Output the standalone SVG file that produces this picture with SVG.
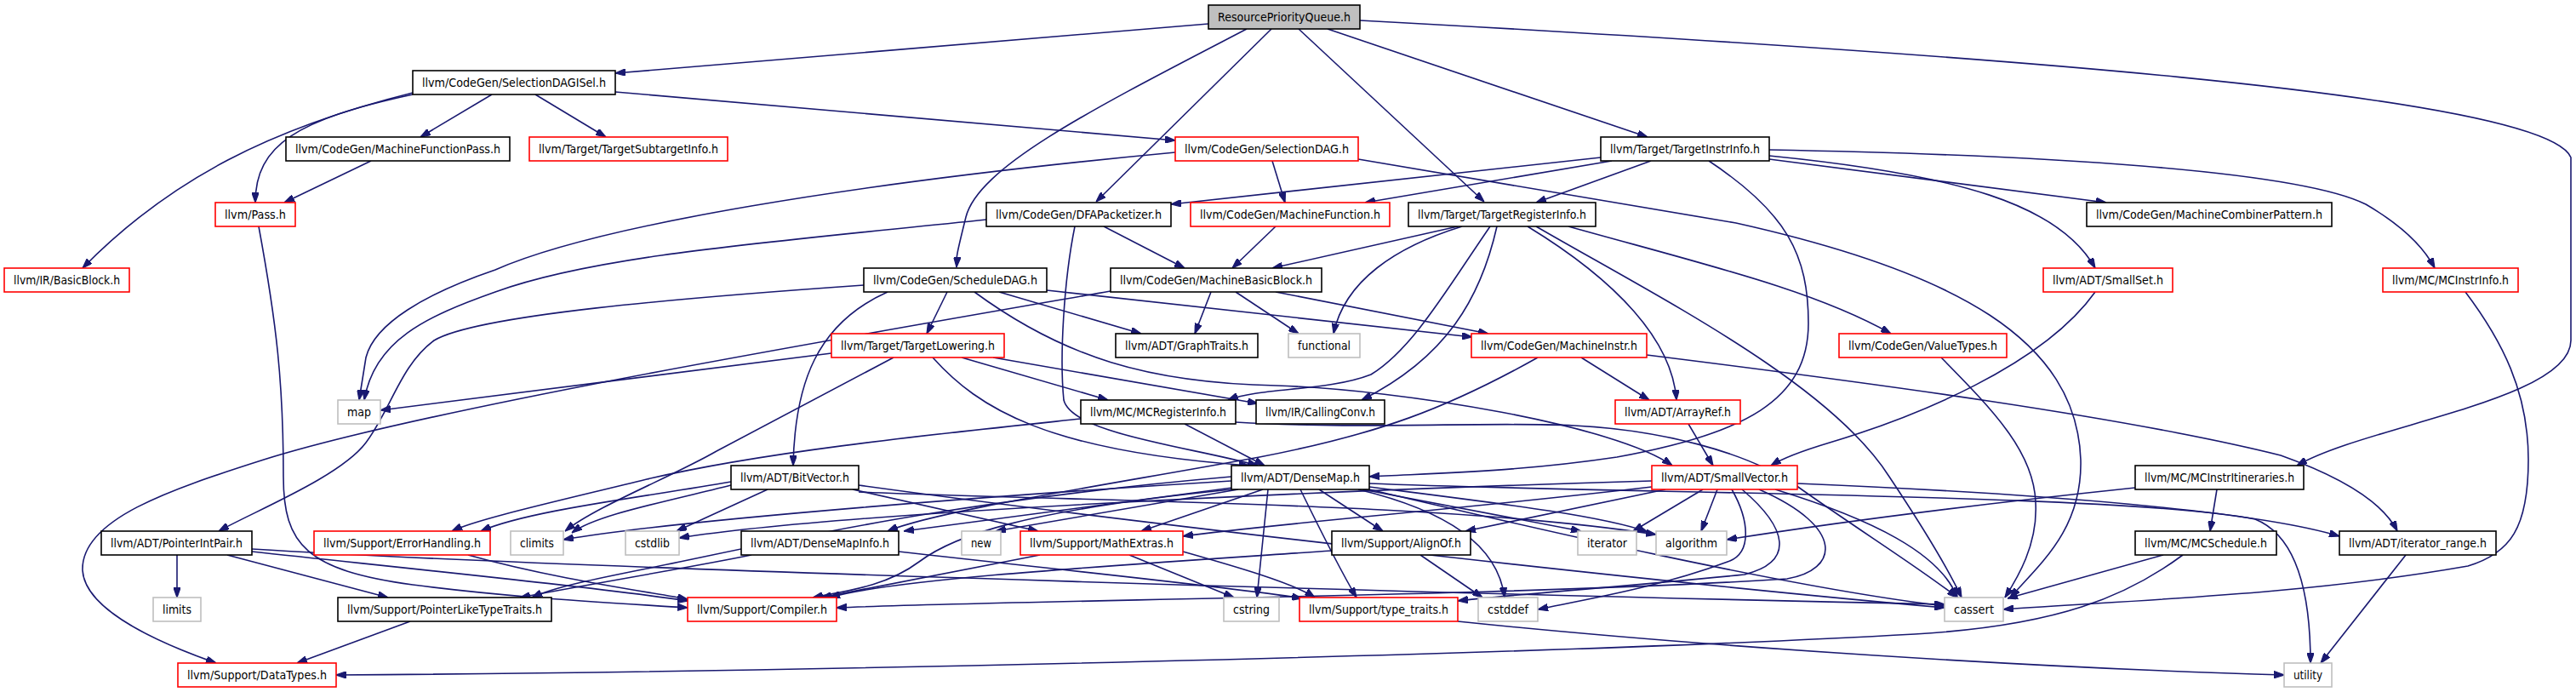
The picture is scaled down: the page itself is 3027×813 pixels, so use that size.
<svg xmlns="http://www.w3.org/2000/svg" width="3027" height="813" viewBox="0 0 3027 813">
<style>
rect{fill:#fff;stroke:#000;stroke-width:1.6}
.r rect{stroke:#ff0000}
.g rect{stroke:#bfbfbf}
.root rect{fill:#bfbfbf}
text{font-family:"DejaVu Sans Condensed","Liberation Sans Narrow","DejaVu Sans",sans-serif;font-size:14px;text-anchor:middle;fill:#000}
#edges path{fill:none;stroke:#191970;stroke-width:1.6;marker-end:url(#a)}
</style>
<defs>
<marker id="a" viewBox="0 0 10 7" refX="10" refY="3.5" markerUnits="userSpaceOnUse" markerWidth="12" markerHeight="8.5" orient="auto">
<path d="M0,0 L10,3.5 L0,7 z" fill="#191970" stroke="#191970"/>
</marker>
</defs>
<rect x="0" y="0" width="3027" height="813" style="fill:#fff;stroke:none"/>
<g id="edges">
<path d="M1420,28 L723,86"/>
<path d="M1465,34 C1290,125 1150,195 1135,255 S1125,300 1124,314"/>
<path d="M1494,34 L1288,237"/>
<path d="M1526,34 L1744,237"/>
<path d="M1560,34 L1936,161"/>
<path d="M1598,24 C2300,62 2990,110 3021,185 L3021,400 C3021,470 2780,500 2699,547"/>
<path d="M578,111 L494,161"/>
<path d="M629,111 L712,161"/>
<path d="M723,108 L1381,165"/>
<path d="M485,111 C350,140 300,170 300,238"/>
<path d="M485,109 C320,150 200,210 97,315"/>
<path d="M436,189 L334,238"/>
<path d="M1381,179 C1000,215 700,265 582,317 C500,345 440,380 430,420 L422,470"/>
<path d="M1495,189 L1510,238"/>
<path d="M1596,187 L2040,262 C2300,320 2440,400 2445,540 C2447,620 2400,660 2362,702"/>
<path d="M1159,258 C900,285 700,300 582,343 C500,372 440,400 428,470"/>
<path d="M1297,266 L1392,315"/>
<path d="M1263,266 C1250,330 1245,420 1250,470 C1260,510 1400,525 1478,547"/>
<path d="M1499,266 L1448,315"/>
<path d="M1881,185 L1376,240"/>
<path d="M1894,189 L1604,238"/>
<path d="M1940,189 L1805,238"/>
<path d="M2008,189 C2100,250 2125,300 2125,380 C2125,470 2050,510 1900,537 C1780,555 1680,556 1609,560"/>
<path d="M2079,187 L2475,238"/>
<path d="M2079,183 C2300,205 2420,240 2462,315"/>
<path d="M2079,176 C2400,182 2700,200 2780,240 Q2840,275 2861,315"/>
<path d="M1713,266 L1495,315"/>
<path d="M1718,266 C1640,290 1580,330 1567,392"/>
<path d="M1751,266 C1700,340 1660,410 1611,440 C1560,460 1480,455 1443,470"/>
<path d="M1759,266 C1740,350 1700,420 1600,470"/>
<path d="M1795,266 C1900,330 1965,400 1970,470"/>
<path d="M1843,266 C2000,310 2130,340 2222,392"/>
<path d="M1805,266 C1950,350 2150,450 2220,560 C2260,620 2290,670 2305,702"/>
<path d="M1423,343 L1404,392"/>
<path d="M1452,343 L1526,392"/>
<path d="M1499,343 L1749,392"/>
<path d="M1305,342 C1000,395 500,480 310,540 C200,575 95,610 97,670 C100,720 200,760 254,779"/>
<path d="M1043,343 C960,380 934,450 932,547"/>
<path d="M1113,343 L1089,392"/>
<path d="M1174,343 L1341,392"/>
<path d="M1230,341 L1730,396"/>
<path d="M1145,343 C1250,420 1350,450 1500,453 C1650,458 1900,500 1965,547"/>
<path d="M1015,335 C800,350 560,370 510,400 C470,430 460,480 430,520 C400,560 300,600 257,624"/>
<path d="M977,415 L447,482"/>
<path d="M1050,420 L842,530 C790,560 700,595 664,624"/>
<path d="M1096,420 C1150,480 1230,530 1468,547"/>
<path d="M1130,420 L1302,470"/>
<path d="M1167,420 L1478,474"/>
<path d="M1392,498 L1486,547"/>
<path d="M1270,492 C1100,510 900,530 760,563 C650,590 560,610 531,624"/>
<path d="M1452,496 C1600,505 1750,495 1850,500 C1950,505 2050,530 2110,570 C2180,620 2260,670 2300,702"/>
<path d="M1858,420 L1938,470"/>
<path d="M1807,420 C1700,480 1620,510 1480,537 C1300,570 1100,600 1043,624"/>
<path d="M1935,417 C2200,450 2500,490 2680,535 C2750,560 2800,590 2817,624"/>
<path d="M1984,498 L2013,547"/>
<path d="M2281,420 C2340,480 2390,530 2392,590 C2395,640 2370,680 2356,702"/>
<path d="M2462,343 C2400,430 2250,490 2150,520 Q2100,535 2081,547"/>
<path d="M2897,343 C2940,400 2971,460 2971,540 C2971,620 2950,650 2900,665 C2700,700 2500,705 2354,716"/>
<path d="M902,575 L795,624"/>
<path d="M859,570 C780,590 700,605 672,626"/>
<path d="M859,566 C750,585 620,600 565,624"/>
<path d="M1002,575 L1220,624"/>
<path d="M1009,578 C1300,590 1700,590 1946,628"/>
<path d="M1009,570 C1300,610 1900,680 2285,714"/>
<path d="M1448,573 L1062,624"/>
<path d="M1550,575 L1625,624"/>
<path d="M1447,575 C1200,600 1120,630 1080,660 C1040,690 990,695 955,702"/>
<path d="M1484,575 L1341,624"/>
<path d="M1447,560 C1100,590 900,640 760,668 C700,680 650,690 625,702"/>
<path d="M1528,575 C1550,620 1575,670 1594,702"/>
<path d="M1609,572 C1750,590 1880,605 1936,625"/>
<path d="M1609,575 C1800,620 2100,690 2285,712"/>
<path d="M1447,565 C1200,580 800,610 662,634"/>
<path d="M1596,575 C1700,600 1760,640 1768,702"/>
<path d="M1490,575 L1477,702"/>
<path d="M1601,575 L1858,624"/>
<path d="M1455,575 L1170,624"/>
<path d="M1609,568 C1900,580 2500,580 2650,610 C2700,630 2715,700 2715,779"/>
<path d="M1957,575 L1722,624"/>
<path d="M2001,575 L1919,624"/>
<path d="M2018,575 L1999,624"/>
<path d="M2035,575 C2055,610 2060,650 2030,660 C1950,690 1860,705 1807,716"/>
<path d="M2047,575 C2100,620 2110,660 2050,675 C1900,690 1760,700 1713,706"/>
<path d="M2067,575 C2170,620 2160,670 2100,680 C1800,700 1200,705 983,714"/>
<path d="M1941,565 C1600,575 1000,600 798,632"/>
<path d="M1941,572 C1700,600 1500,615 1390,630"/>
<path d="M2086,575 C2200,610 2280,650 2300,702"/>
<path d="M2112,568 C2400,580 2650,600 2749,630"/>
<path d="M208,652 L208,702"/>
<path d="M267,652 L456,702"/>
<path d="M296,648 C500,670 700,690 808,706"/>
<path d="M296,645 C700,670 1800,700 2285,710"/>
<path d="M482,730 L349,779"/>
<path d="M304,266 C325,380 333,450 333,560 C333,640 360,670 485,687 C600,702 700,707 808,714"/>
<path d="M550,652 C650,680 760,695 808,704"/>
<path d="M883,652 C820,665 700,685 611,702"/>
<path d="M1056,648 C1250,670 1450,690 1530,703"/>
<path d="M1565,647 C1300,665 1050,680 975,702"/>
<path d="M1669,652 L1742,702"/>
<path d="M1222,652 L965,702"/>
<path d="M1327,652 L1450,702"/>
<path d="M1390,648 C1450,665 1520,685 1545,702"/>
<path d="M1713,730 C2000,760 2400,785 2684,793"/>
<path d="M2605,575 L2597,624"/>
<path d="M2509,573 C2300,595 2150,615 2029,634"/>
<path d="M2542,652 L2359,703"/>
<path d="M2565,652 C2500,700 2420,735 2250,745 C1800,770 900,790 395,793"/>
<path d="M2827,652 L2727,779"/>
</g>
<g id="n_rpq" class="root"><rect x="1420" y="6" width="178" height="28"/><text x="1509" y="25" textLength="156" lengthAdjust="spacingAndGlyphs">ResourcePriorityQueue.h</text></g>
<g id="n_sdisel"><rect x="485" y="83" width="238" height="28"/><text x="604" y="102" textLength="216" lengthAdjust="spacingAndGlyphs">llvm/CodeGen/SelectionDAGISel.h</text></g>
<g id="n_mfpass"><rect x="336" y="161" width="263" height="28"/><text x="467.5" y="180" textLength="241" lengthAdjust="spacingAndGlyphs">llvm/CodeGen/MachineFunctionPass.h</text></g>
<g id="n_tsub" class="r"><rect x="622" y="161" width="233" height="28"/><text x="738.5" y="180" textLength="211" lengthAdjust="spacingAndGlyphs">llvm/Target/TargetSubtargetInfo.h</text></g>
<g id="n_sdag" class="r"><rect x="1381" y="161" width="215" height="28"/><text x="1488.5" y="180" textLength="193" lengthAdjust="spacingAndGlyphs">llvm/CodeGen/SelectionDAG.h</text></g>
<g id="n_tii"><rect x="1881" y="161" width="198" height="28"/><text x="1980" y="180" textLength="176" lengthAdjust="spacingAndGlyphs">llvm/Target/TargetInstrInfo.h</text></g>
<g id="n_pass" class="r"><rect x="253" y="238" width="94" height="28"/><text x="300" y="257" textLength="72" lengthAdjust="spacingAndGlyphs">llvm/Pass.h</text></g>
<g id="n_dfa"><rect x="1159" y="238" width="217" height="28"/><text x="1267.5" y="257" textLength="195" lengthAdjust="spacingAndGlyphs">llvm/CodeGen/DFAPacketizer.h</text></g>
<g id="n_mf" class="r"><rect x="1399" y="238" width="234" height="28"/><text x="1516" y="257" textLength="212" lengthAdjust="spacingAndGlyphs">llvm/CodeGen/MachineFunction.h</text></g>
<g id="n_tri"><rect x="1655" y="238" width="220" height="28"/><text x="1765" y="257" textLength="198" lengthAdjust="spacingAndGlyphs">llvm/Target/TargetRegisterInfo.h</text></g>
<g id="n_mcp"><rect x="2452" y="238" width="288" height="28"/><text x="2596" y="257" textLength="266" lengthAdjust="spacingAndGlyphs">llvm/CodeGen/MachineCombinerPattern.h</text></g>
<g id="n_bb" class="r"><rect x="5" y="315" width="147" height="28"/><text x="78.5" y="334" textLength="125" lengthAdjust="spacingAndGlyphs">llvm/IR/BasicBlock.h</text></g>
<g id="n_sched"><rect x="1015" y="315" width="215" height="28"/><text x="1122.5" y="334" textLength="193" lengthAdjust="spacingAndGlyphs">llvm/CodeGen/ScheduleDAG.h</text></g>
<g id="n_mbb"><rect x="1305" y="315" width="248" height="28"/><text x="1429" y="334" textLength="226" lengthAdjust="spacingAndGlyphs">llvm/CodeGen/MachineBasicBlock.h</text></g>
<g id="n_smallset" class="r"><rect x="2401" y="315" width="152" height="28"/><text x="2477" y="334" textLength="130" lengthAdjust="spacingAndGlyphs">llvm/ADT/SmallSet.h</text></g>
<g id="n_mcii" class="r"><rect x="2800" y="315" width="159" height="28"/><text x="2879.5" y="334" textLength="137" lengthAdjust="spacingAndGlyphs">llvm/MC/MCInstrInfo.h</text></g>
<g id="n_tl" class="r"><rect x="977" y="392" width="203" height="28"/><text x="1078.5" y="411" textLength="181" lengthAdjust="spacingAndGlyphs">llvm/Target/TargetLowering.h</text></g>
<g id="n_gt"><rect x="1311" y="392" width="167" height="28"/><text x="1394.5" y="411" textLength="145" lengthAdjust="spacingAndGlyphs">llvm/ADT/GraphTraits.h</text></g>
<g id="n_functional" class="g"><rect x="1514" y="392" width="84" height="28"/><text x="1556" y="411" textLength="62" lengthAdjust="spacingAndGlyphs">functional</text></g>
<g id="n_mi" class="r"><rect x="1729" y="392" width="206" height="28"/><text x="1832" y="411" textLength="184" lengthAdjust="spacingAndGlyphs">llvm/CodeGen/MachineInstr.h</text></g>
<g id="n_vt" class="r"><rect x="2161" y="392" width="197" height="28"/><text x="2259.5" y="411" textLength="175" lengthAdjust="spacingAndGlyphs">llvm/CodeGen/ValueTypes.h</text></g>
<g id="n_map" class="g"><rect x="397" y="470" width="50" height="28"/><text x="422" y="489" textLength="28" lengthAdjust="spacingAndGlyphs">map</text></g>
<g id="n_mcri"><rect x="1270" y="470" width="182" height="28"/><text x="1361" y="489" textLength="160" lengthAdjust="spacingAndGlyphs">llvm/MC/MCRegisterInfo.h</text></g>
<g id="n_cc"><rect x="1476" y="470" width="151" height="28"/><text x="1551.5" y="489" textLength="129" lengthAdjust="spacingAndGlyphs">llvm/IR/CallingConv.h</text></g>
<g id="n_ar" class="r"><rect x="1898" y="470" width="147" height="28"/><text x="1971.5" y="489" textLength="125" lengthAdjust="spacingAndGlyphs">llvm/ADT/ArrayRef.h</text></g>
<g id="n_bv"><rect x="859" y="547" width="150" height="28"/><text x="934" y="566" textLength="128" lengthAdjust="spacingAndGlyphs">llvm/ADT/BitVector.h</text></g>
<g id="n_dm"><rect x="1447" y="547" width="162" height="28"/><text x="1528" y="566" textLength="140" lengthAdjust="spacingAndGlyphs">llvm/ADT/DenseMap.h</text></g>
<g id="n_sv" class="r"><rect x="1941" y="547" width="171" height="28"/><text x="2026.5" y="566" textLength="149" lengthAdjust="spacingAndGlyphs">llvm/ADT/SmallVector.h</text></g>
<g id="n_mcitin"><rect x="2509" y="547" width="198" height="28"/><text x="2608" y="566" textLength="176" lengthAdjust="spacingAndGlyphs">llvm/MC/MCInstrItineraries.h</text></g>
<g id="n_pip"><rect x="119" y="624" width="177" height="28"/><text x="207.5" y="643" textLength="155" lengthAdjust="spacingAndGlyphs">llvm/ADT/PointerIntPair.h</text></g>
<g id="n_eh" class="r"><rect x="369" y="624" width="207" height="28"/><text x="472.5" y="643" textLength="185" lengthAdjust="spacingAndGlyphs">llvm/Support/ErrorHandling.h</text></g>
<g id="n_climits" class="g"><rect x="600" y="624" width="62" height="28"/><text x="631" y="643" textLength="40" lengthAdjust="spacingAndGlyphs">climits</text></g>
<g id="n_cstdlib" class="g"><rect x="735" y="624" width="63" height="28"/><text x="766.5" y="643" textLength="41" lengthAdjust="spacingAndGlyphs">cstdlib</text></g>
<g id="n_dmi"><rect x="871" y="624" width="185" height="28"/><text x="963.5" y="643" textLength="163" lengthAdjust="spacingAndGlyphs">llvm/ADT/DenseMapInfo.h</text></g>
<g id="n_new" class="g"><rect x="1130" y="624" width="46" height="28"/><text x="1153" y="643" textLength="24" lengthAdjust="spacingAndGlyphs">new</text></g>
<g id="n_me" class="r"><rect x="1199" y="624" width="191" height="28"/><text x="1294.5" y="643" textLength="169" lengthAdjust="spacingAndGlyphs">llvm/Support/MathExtras.h</text></g>
<g id="n_align"><rect x="1565" y="624" width="163" height="28"/><text x="1646.5" y="643" textLength="141" lengthAdjust="spacingAndGlyphs">llvm/Support/AlignOf.h</text></g>
<g id="n_iterator" class="g"><rect x="1854" y="624" width="69" height="28"/><text x="1888.5" y="643" textLength="47" lengthAdjust="spacingAndGlyphs">iterator</text></g>
<g id="n_algorithm" class="g"><rect x="1946" y="624" width="83" height="28"/><text x="1987.5" y="643" textLength="61" lengthAdjust="spacingAndGlyphs">algorithm</text></g>
<g id="n_mcsched"><rect x="2509" y="624" width="166" height="28"/><text x="2592" y="643" textLength="144" lengthAdjust="spacingAndGlyphs">llvm/MC/MCSchedule.h</text></g>
<g id="n_itr"><rect x="2749" y="624" width="184" height="28"/><text x="2841" y="643" textLength="162" lengthAdjust="spacingAndGlyphs">llvm/ADT/iterator_range.h</text></g>
<g id="n_limits" class="g"><rect x="180" y="702" width="56" height="28"/><text x="208" y="721" textLength="34" lengthAdjust="spacingAndGlyphs">limits</text></g>
<g id="n_pltt"><rect x="397" y="702" width="251" height="28"/><text x="522.5" y="721" textLength="229" lengthAdjust="spacingAndGlyphs">llvm/Support/PointerLikeTypeTraits.h</text></g>
<g id="n_comp" class="r"><rect x="808" y="702" width="175" height="28"/><text x="895.5" y="721" textLength="153" lengthAdjust="spacingAndGlyphs">llvm/Support/Compiler.h</text></g>
<g id="n_cstring" class="g"><rect x="1438" y="702" width="65" height="28"/><text x="1470.5" y="721" textLength="43" lengthAdjust="spacingAndGlyphs">cstring</text></g>
<g id="n_tt" class="r"><rect x="1527" y="702" width="186" height="28"/><text x="1620" y="721" textLength="164" lengthAdjust="spacingAndGlyphs">llvm/Support/type_traits.h</text></g>
<g id="n_cstddef" class="g"><rect x="1737" y="702" width="70" height="28"/><text x="1772" y="721" textLength="48" lengthAdjust="spacingAndGlyphs">cstddef</text></g>
<g id="n_cassert" class="g"><rect x="2285" y="702" width="69" height="28"/><text x="2319.5" y="721" textLength="47" lengthAdjust="spacingAndGlyphs">cassert</text></g>
<g id="n_dt" class="r"><rect x="209" y="779" width="186" height="28"/><text x="302" y="798" textLength="164" lengthAdjust="spacingAndGlyphs">llvm/Support/DataTypes.h</text></g>
<g id="n_utility" class="g"><rect x="2684" y="779" width="56" height="28"/><text x="2712" y="798" textLength="34" lengthAdjust="spacingAndGlyphs">utility</text></g>
</svg>
